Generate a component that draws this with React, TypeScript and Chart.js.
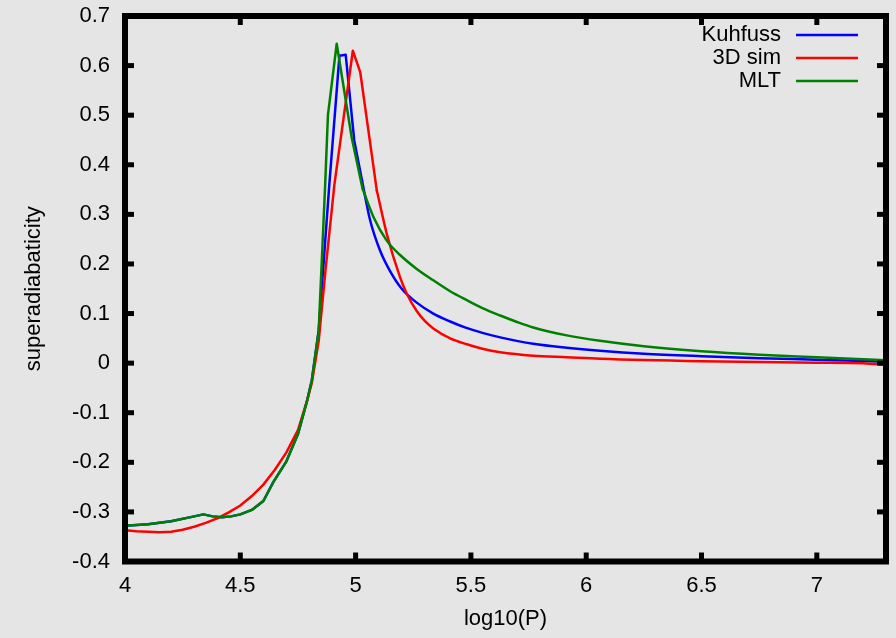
import { useEffect, useRef } from "react";
import { Chart, registerables } from "chart.js";

Chart.register(...registerables);

const kuhfussX = [4.0, 4.1, 4.2, 4.3, 4.34, 4.38, 4.42, 4.46, 4.5, 4.55, 4.6, 4.643, 4.7, 4.75, 4.79, 4.81, 4.84, 4.886, 4.93, 4.957, 4.994, 5.028, 5.063, 5.106, 5.15, 5.2, 5.265, 5.337, 5.41, 5.48, 5.55, 5.627, 5.77, 5.916, 6.06, 6.25, 6.5, 6.75, 7.0, 7.3];
const kuhfussY = [-0.328, -0.325, -0.319, -0.309, -0.305, -0.309, -0.311, -0.309, -0.305, -0.296, -0.278, -0.24, -0.198, -0.143, -0.075, -0.035, 0.066, 0.36, 0.62, 0.622, 0.449, 0.368, 0.288, 0.227, 0.185, 0.15, 0.122, 0.1, 0.084, 0.071, 0.061, 0.052, 0.039, 0.031, 0.025, 0.019, 0.014, 0.01, 0.007, 0.003];

const simX = [4.0, 4.05, 4.1, 4.15, 4.2, 4.25, 4.3, 4.35, 4.4, 4.45, 4.5, 4.55, 4.6, 4.65, 4.7, 4.75, 4.79, 4.81, 4.84, 4.87, 4.908, 4.988, 5.02, 5.092, 5.135, 5.193, 5.222, 5.265, 5.3, 5.337, 5.41, 5.482, 5.55, 5.627, 5.77, 5.916, 6.06, 6.5, 7.0, 7.2, 7.3];
const simY = [-0.337, -0.339, -0.34, -0.341, -0.34, -0.336, -0.33, -0.322, -0.313, -0.301, -0.287, -0.268, -0.245, -0.215, -0.18, -0.135, -0.075, -0.04, 0.045, 0.19, 0.36, 0.63, 0.587, 0.348, 0.261, 0.173, 0.14, 0.105, 0.085, 0.07, 0.05, 0.038, 0.029, 0.022, 0.015, 0.012, 0.009, 0.004, 0.001, 0.0, -0.004];

const mltX = [4.0, 4.1, 4.2, 4.3, 4.34, 4.38, 4.42, 4.46, 4.5, 4.55, 4.6, 4.643, 4.7, 4.75, 4.79, 4.81, 4.84, 4.868, 4.88, 4.918, 4.983, 5.03, 5.08, 5.135, 5.193, 5.265, 5.337, 5.41, 5.482, 5.55, 5.627, 5.7, 5.77, 5.916, 6.06, 6.25, 6.5, 6.75, 7.0, 7.3];
const mltY = [-0.328, -0.325, -0.319, -0.309, -0.305, -0.309, -0.311, -0.309, -0.305, -0.296, -0.278, -0.24, -0.198, -0.143, -0.075, -0.035, 0.066, 0.36, 0.5, 0.644, 0.455, 0.352, 0.292, 0.247, 0.218, 0.19, 0.167, 0.145, 0.127, 0.111, 0.096, 0.083, 0.072, 0.056, 0.045, 0.034, 0.024, 0.017, 0.012, 0.006];

// where each curve's smooth decaying tail begins
const tailStart = [5.028, 5.092, 5.03];

const xTickValues = [4, 4.5, 5, 5.5, 6, 6.5, 7];
const yTickValues = [-0.4, -0.3, -0.2, -0.1, 0, 0.1, 0.2, 0.3, 0.4, 0.5, 0.6, 0.7];

const seriesNames = ["Kuhfuss", "3D sim", "MLT"];
const seriesColors = ["#0000ff", "#ff0000", "#008000"];
const xTitle = "log10(P)";
const yTitle = "superadiabaticity";

const FONT = "'Liberation Sans', Arial, Helvetica, sans-serif";
const FONT_SIZE = 22;
const BG = "#e5e5e5";

const fmt = (v: number) => String(Math.round(v * 10) / 10);

const framePlugin = {
  id: "gnuFrame",
  afterDatasetsDraw(chart: any) {
    const { ctx, chartArea: a, scales } = chart;
    ctx.save();
    ctx.strokeStyle = "#000";
    ctx.lineCap = "butt";
    ctx.lineJoin = "miter";
    const line = (x1: number, y1: number, x2: number, y2: number) => {
      ctx.beginPath();
      ctx.moveTo(x1, y1);
      ctx.lineTo(x2, y2);
      ctx.stroke();
    };
    // ticks (inward on all four sides)
    ctx.lineWidth = 5;
    const L = 9;
    for (const v of xTickValues) {
      const px = scales.x.getPixelForValue(v);
      line(px, a.bottom, px, a.bottom - L);
      line(px, a.top, px, a.top + L);
    }
    for (const v of yTickValues) {
      const py = scales.y.getPixelForValue(v);
      line(a.left, py, a.left + L, py);
      line(a.right, py, a.right - L, py);
    }
    // border
    ctx.lineWidth = 6;
    ctx.strokeRect(a.left, a.top, a.right - a.left, a.bottom - a.top);

    // key
    ctx.font = `${FONT_SIZE}px ${FONT}`;
    ctx.textAlign = "right";
    ctx.textBaseline = "middle";
    seriesNames.forEach((name, i) => {
      const y = a.top + 19 + i * 23;
      ctx.fillStyle = "#000";
      ctx.fillText(name, a.right - 105, y);
      ctx.strokeStyle = seriesColors[i];
      ctx.lineWidth = 2.5;
      line(a.right - 90, y, a.right - 28, y);
    });
    ctx.restore();
  },
};

export default function App() {
  const ref = useRef<HTMLCanvasElement>(null);

  useEffect(() => {
    if (!ref.current) return;
    const xs = [kuhfussX, simX, mltX];
    const ys = [kuhfussY, simY, mltY];
    const datasets: any[] = [];
    seriesNames.forEach((name, i) => {
      const pts = xs[i].map((x, j) => ({ x, y: ys[i][j] }));
      const k = pts.findIndex((p) => p.x >= tailStart[i]);
      const common = {
        label: name,
        borderColor: seriesColors[i],
        backgroundColor: seriesColors[i],
        borderWidth: 2.5,
        borderJoinStyle: "round" as const,
        borderCapStyle: "round" as const,
        pointRadius: 0,
        fill: false,
        tension: 0,
        order: 2 - i,
      };
      datasets.push({ ...common, data: pts.slice(0, k + 1) });
      datasets.push({ ...common, data: pts.slice(k), cubicInterpolationMode: "monotone" });
    });
    const chart = new Chart(ref.current, {
      type: "line",
      data: { datasets },
      options: {
        animation: false,
        responsive: false,
        maintainAspectRatio: false,
        devicePixelRatio: 1,
        layout: { padding: { top: 16, right: 10, bottom: 0, left: 0 } },
        plugins: { legend: { display: false }, tooltip: { enabled: false } },
        scales: {
          x: {
            type: "linear",
            min: 4,
            max: 7.3,
            grid: { display: false, drawTicks: false },
            border: { display: false },
            afterFit: (s: any) => {
              s.height = 76.5;
              s.paddingLeft = 0;
              s.paddingRight = 0;
            },
            afterBuildTicks: (s: any) => {
              s.ticks = xTickValues.map((v) => ({ value: v }));
            },
            ticks: {
              color: "#000",
              padding: 11,
              maxRotation: 0,
              autoSkip: false,
              font: { family: FONT, size: FONT_SIZE },
              callback: (v: any) => fmt(Number(v)),
            },
            title: {
              display: true,
              text: xTitle,
              color: "#000",
              font: { family: FONT, size: FONT_SIZE },
              padding: { top: 0, bottom: 6 },
            },
          },
          y: {
            type: "linear",
            min: -0.4,
            max: 0.7,
            grid: { display: false, drawTicks: false },
            border: { display: false },
            afterFit: (s: any) => {
              s.width = 125;
              s.paddingTop = 0;
              s.paddingBottom = 0;
            },
            afterBuildTicks: (s: any) => {
              s.ticks = yTickValues.map((v) => ({ value: v }));
            },
            ticks: {
              color: "#000",
              padding: 15,
              autoSkip: false,
              font: { family: FONT, size: FONT_SIZE },
              callback: (v: any) => fmt(Number(v)),
            },
            title: {
              display: true,
              text: yTitle,
              color: "#000",
              font: { family: FONT, size: FONT_SIZE },
              padding: { top: 21, bottom: 0 },
            },
          },
        },
      },
      plugins: [framePlugin],
    });
    return () => chart.destroy();
  }, []);

  return (
    <div
      style={{
        position: "fixed",
        left: 0,
        top: 0,
        width: 896,
        height: 638,
        background: BG,
      }}
    >
      <canvas ref={ref} width={896} height={638} style={{ display: "block" }} />
    </div>
  );
}
